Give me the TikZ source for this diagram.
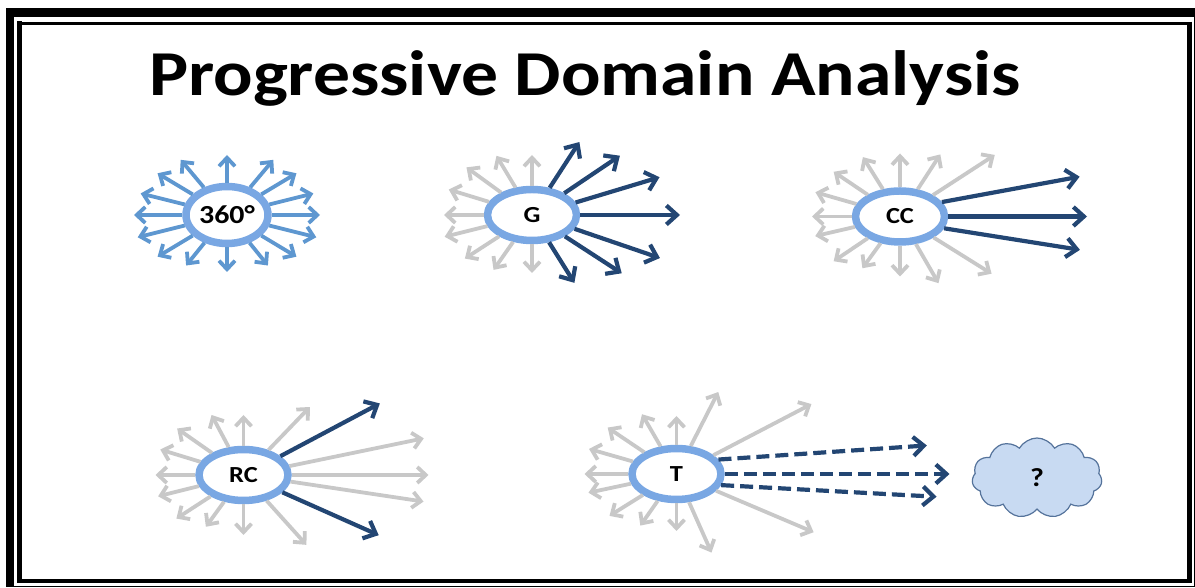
\documentclass[tikz,border=0pt]{standalone}
\usepackage{fontspec}
\setmainfont{Carlito}
\usetikzlibrary{arrows.meta,shapes.geometric,shapes.symbols,calc,positioning}
\definecolor{ringblue}{RGB}{121,167,227}
\definecolor{rayblue}{RGB}{94,151,208}
\definecolor{raygrey}{RGB}{200,200,200}
\definecolor{raynavy}{RGB}{35,70,115}
\definecolor{cloudfill}{RGB}{200,218,242}
\definecolor{cloudline}{RGB}{85,115,155}
\tikzset{
    ring/.style={ellipse, draw=ringblue, line width=7.5pt, fill=white, inner sep=0pt,
        minimum width=89pt, minimum height=51pt, font=\bfseries\fontsize{23}{23}\selectfont},
    ray/.style={line width=3.8pt, -{Straight Barb[length=8.5pt,width=16pt]}},
    blueray/.style={ray, draw=rayblue},
    greyray/.style={ray, draw=raygrey},
    navyray/.style={line width=4.2pt, draw=raynavy, -{Straight Barb[length=10.5pt,width=19pt]}},
    dashray/.style={navyray, dash pattern=on 13pt off 6pt},
    idea/.style={cloud, cloud puffs=11, cloud puff arc=120, aspect=1.6, draw=cloudline,
        line width=1.2pt, fill=cloudfill, minimum width=130pt, minimum height=80pt,
        font=\bfseries\fontsize{26}{26}\selectfont}
}
\begin{document}
\begin{tikzpicture}[x=1pt,y=1pt]
	\useasboundingbox (0,0) rectangle (1195,588);
	% page border
	\draw[line width=8pt] (10,1) -- (10,580);
	\draw[line width=9pt] (6,575.5) -- (1195,575.5);
	\draw[line width=1.6pt] (1194.5,571) -- (1194.5,1);
	\draw[line width=1.5pt] (14,1.7) -- (1195,1.7);
	\draw[line width=4.5pt] (19.5,566.5) -- (19.5,5);
	\draw[line width=3pt] (17.3,564.7) -- (1191.7,564.7);
	\draw[line width=4.5pt] (1189.5,566.3) -- (1189.5,4.7);
	\draw[line width=4pt] (17.3,6.7) -- (1191.7,6.7);
	\node[font=\bfseries\fontsize{64}{64}\selectfont, anchor=base, xscale=1.15] (title) at (585,492) {Progressive Domain Analysis};
	% 360
	\node[ring, minimum width=82pt, minimum height=57pt, font=\bfseries\fontsize{26}{26}\selectfont] (ring360) at (227,373) {\scalebox{1.15}[1]{360°}};
	\foreach \a/\l in {0/93,14/89,31/81,50/72,90/60,130/72,149/81,166/89,180/93,194/92,211/81,231/65,270/57,309/65,329/81,346/92}
		\draw[blueray] (ring360.\a) -- ($(ring360)+(\a:\l)$);
	% G
	\node[ring] (ringG) at (532,373) {\scalebox{1.15}[1]{G}};
	\foreach \a/\l in {90/60,121/69,144/81,163/87,180/88,194/90,213/80,235/67,270/58}
		\draw[greyray] (ringG.\a) -- ($(ringG)+(\a:\l)$);
	\foreach \a/\l in {57/87,34/106,16.5/133,0/148,-18.6/135,-33/107,-58/80}
		\draw[navyray] (ringG.\a) -- ($(ringG)+(\a:\l)$);
	% CC
	\node[ring] (ringCC) at (900,371.5) {\scalebox{1.15}[1]{CC}};
	\foreach \a/\l in {57/74,33/113,90/63,122/70,146/80,164/88,180/88,193/87,214/80,234/64,270/60,-60/77,-32/108}
		\draw[greyray] (ringCC.\a) -- ($(ringCC)+(\a:\l)$);
	\foreach \s/\a/\l in {19/12.5/184,0/0/187,-15/-10.5/183}
		\draw[navyray] (ringCC.\s) -- ($(ringCC)+(\a:\l)$);
	% RC
	\node[ring] (ringRC) at (243.5,113) {\scalebox{1.15}[1]{RC}};
	\foreach \a/\l in {90/60,118/68,145/81,163/87,180/88,194/88,213/80,234/64,270/60,-48/94,-8.4/182,0/185,11.5/184,45.7/95}
		\draw[greyray] (ringRC.\a) -- ($(ringRC)+(\a:\l)$);
	\foreach \a/\l in {27.7/154,-24/148}
		\draw[navyray] (ringRC.\a) -- ($(ringRC)+(\a:\l)$);
	% T
	\node[ring] (ringT) at (676.5,114) {\scalebox{1.15}[1]{T}};
	\foreach \a/\l in {120/69,90/58,63/92,27.4/152,-23/149,-66/86,270/57,235/63,212/79,192/90,180/92,164/91,146/83}
		\draw[greyray] (ringT.\a) -- ($(ringT)+(\a:\l)$);
	\foreach \s/\a/\l in {19/6.5/252,0/0/273,-14/-5/261}
		\draw[dashray] (ringT.\s) -- ($(ringT)+(\a:\l)$);
	\node[idea] (unknown) at (1037,110) {\scalebox{1.15}[1]{?}};
\end{tikzpicture}
\end{document}
